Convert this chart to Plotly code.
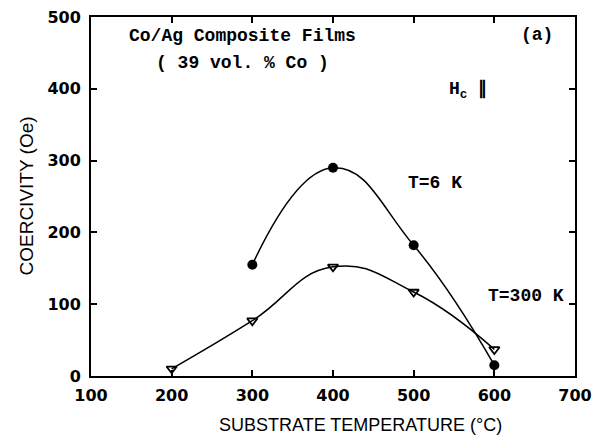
import plotly.graph_objects as go

# Data
temp_6k = [300, 400, 500, 600]
hc_6k = [155, 290, 182, 15]
temp_300k = [200, 300, 400, 500, 600]
hc_300k = [10, 77, 152, 117, 37]
x_ticks = [100, 200, 300, 400, 500, 600, 700]
y_ticks = [0, 100, 200, 300, 400, 500]

fig = go.Figure()

fig.add_trace(go.Scatter(
    x=temp_6k, y=hc_6k, mode="lines+markers",
    line=dict(color="black", width=1.5, shape="spline", smoothing=1.3),
    marker=dict(symbol="circle", size=10, color="black"),
    showlegend=False))

fig.add_trace(go.Scatter(
    x=temp_300k, y=hc_300k, mode="lines+markers",
    line=dict(color="black", width=1.5, shape="spline", smoothing=1.3),
    marker=dict(symbol="triangle-down-open", size=9, color="black",
                line=dict(width=1.8, color="black")),
    showlegend=False))

serif = dict(family="Liberation Mono", size=18, color="black", weight="bold")

annotations = [
    dict(x=288, y=474, text="Co/Ag Composite Films"),
    dict(x=288, y=436, text="( 39 vol. % Co )"),
    dict(x=653, y=475, text="(a)"),
    dict(x=567, y=398, text="H<sub>c</sub> \u2225"),
    dict(x=526, y=269, text="T=6 K"),
    dict(x=639, y=112, text="T=300 K"),
]
for a in annotations:
    a.update(xref="x", yref="y", showarrow=False, font=serif)

# page has an 8px body margin; figure is offset accordingly
W, H = 594, 430
L, R, T, B = 83, 27, 9, 62
plot_w = W - L - R

annotations.append(dict(x=(360 - 8 - L) / plot_w, y=(H - B - (425 - 8)) / (H - T - B),
                        xref="paper", yref="paper",
                        text="SUBSTRATE TEMPERATURE (\u00b0C)", showarrow=False,
                        xanchor="center", yanchor="middle",
                        font=dict(family="Liberation Sans", size=18, color="black")))
annotations.append(dict(x=(26 - 8 - L) / plot_w, y=0.5, xref="paper", yref="paper",
                        text="COERCIVITY (Oe)", showarrow=False, textangle=-90,
                        xanchor="center", yanchor="middle",
                        font=dict(family="Liberation Sans", size=19, color="black")))

axis_common = dict(
    showline=True, linecolor="black", linewidth=2, mirror="ticks",
    ticks="inside", ticklen=6, tickwidth=1.5, tickcolor="black",
    showgrid=False, zeroline=False, automargin=False,
    ticklabeloverflow="allow",
    tickfont=dict(family="DejaVu Sans", size=16, color="black", weight="bold"),
)

fig.update_layout(
    width=W, height=H,
    margin=dict(l=L, r=R, t=T, b=B),
    paper_bgcolor="white", plot_bgcolor="white",
    xaxis=dict(range=[100, 700], tickvals=x_ticks, ticklabelstandoff=4, **axis_common),
    yaxis=dict(range=[0, 500], tickvals=y_ticks, ticklabelstandoff=5, **axis_common),
    annotations=annotations,
)

fig.write_html("out.html")
